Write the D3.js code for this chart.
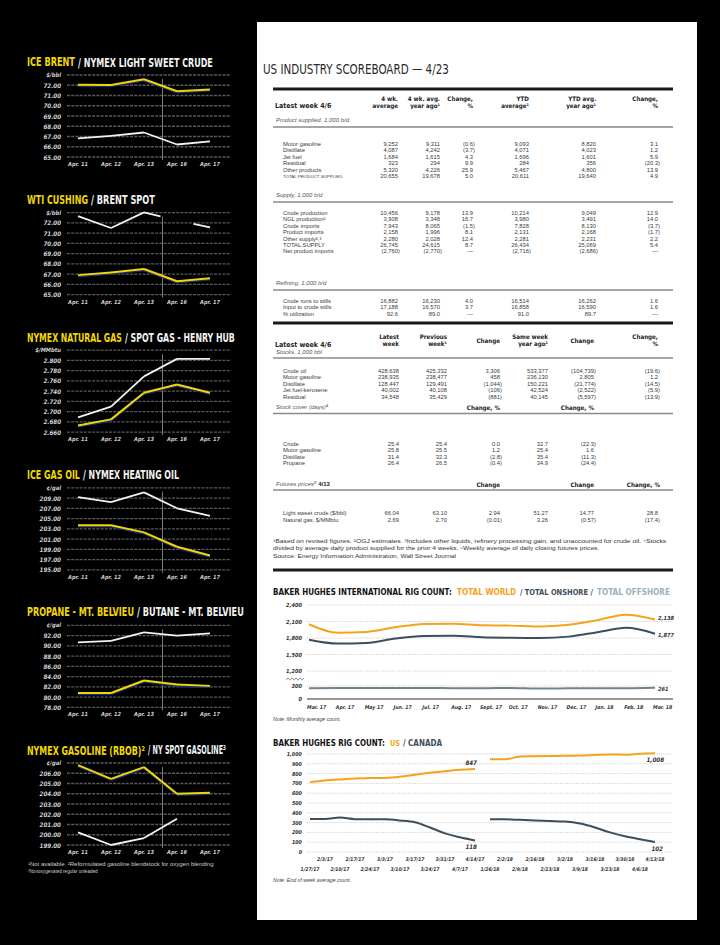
<!DOCTYPE html>
<html><head><meta charset="utf-8">
<script src="https://cdn.jsdelivr.net/npm/d3@7"></script>
<style>
html,body{margin:0;padding:0;background:#000;}
svg{display:block;}
</style></head><body>
<svg id="c" width="720" height="945"></svg>
<script>
// ================= DATA =================
const days = ["Apr. 11","Apr. 12","Apr. 13","Apr. 16","Apr. 17"];

const iceBrent      = [72.06, 72.02, 72.58, 71.42, 71.58];
const nymexLsc      = [66.82, 67.07, 67.39, 66.22, 66.52];
const wtiCushing    = [66.90, 67.15, 67.50, 66.30, 66.60];
const brentSpot     = [72.65, 71.50, 73.02, null, 71.55];
const brentSpotNA   = [null, null, null, 72.25, null];   // not available point (drawn half way)
const nymexGas      = [2.673, 2.685, 2.737, 2.753, 2.737];
const henryHub      = [2.689, 2.710, 2.769, 2.803, 2.803];
const iceGasOil     = [203.7, 203.7, 202.3, 199.5, 197.8];
const heatingOil    = [209.2, 208.2, 210.1, 207.0, 205.5];
const propane       = [80.8, 80.8, 83.25, 82.45, 82.2];
const butane        = [90.7, 91.0, 92.65, 92.0, 92.45];
const rbob          = [206.8, 205.45, 206.6, 204.0, 204.1];
const nySpotGas     = [200.23, 199.0, 199.68, 201.57, null];

const crudeTicks = [65,66,67,68,69,70,71,72];
const gasTicks   = [2.66,2.68,2.70,2.72,2.74,2.76,2.78,2.80];
const hoTicks    = [195,197,199,201,203,205,207,209];
const lpgTicks   = [78,80,82,84,86,88,90,92];
const rbobTicks  = [199,200,201,202,203,204,205,206];

const leftCharts = [
  {t1:"ICE BRENT", t2:"/ NYMEX LIGHT SWEET CRUDE", unit:"$/bbl", ticks:crudeTicks, top:73, dec:2, yellow:iceBrent, white:nymexLsc},
  {t1:"WTI CUSHING", t2:"/ BRENT SPOT", unit:"$/bbl", ticks:crudeTicks, top:73, dec:2, yellow:wtiCushing, white:brentSpot, whiteNA:brentSpotNA},
  {t1:"NYMEX NATURAL GAS", t2:"/ SPOT GAS - HENRY HUB", unit:"$/MMbtu", ticks:gasTicks, top:2.82, dec:3, yellow:nymexGas, white:henryHub},
  {t1:"ICE GAS OIL", t2:"/ NYMEX HEATING OIL", unit:"¢/gal", ticks:hoTicks, top:211, dec:2, yellow:iceGasOil, white:heatingOil},
  {t1:"PROPANE - MT. BELVIEU", t2:"/ BUTANE - MT. BELVIEU", unit:"¢/gal", ticks:lpgTicks, top:94, dec:2, yellow:propane, white:butane},
  {t1:"NYMEX GASOLINE (RBOB)²", t2:"/ NY SPOT GASOLINE³", unit:"¢/gal", ticks:rbobTicks, top:207, dec:2, yellow:rbob, white:nySpotGas}
];
const leftFootnotes = ["¹Not available. ²Reformulated gasoline blendstock for oxygen blending", "³Nonoxygenated regular unleaded"];

// Scoreboard table
const topHeaders = [["4 wk.","average"],["4 wk. avg.","year ago¹"],["Change,","%"],["YTD","average¹"],["YTD avg.","year ago¹"],["Change,","%"]];
const prodLabels = ["Motor gasoline","Distillate","Jet fuel","Residual","Other products","TOTAL PRODUCT SUPPLIED"];
const prodValues = [
  ["9,252","9,311","(0.6)","9,093","8,820","3.1"],
  ["4,087","4,242","(3.7)","4,071","4,023","1.2"],
  ["1,684","1,615","4.3","1,696","1,601","5.9"],
  ["323","294","9.9","284","356","(20.3)"],
  ["5,320","4,226","25.9","5,467","4,800","13.9"],
  ["20,655","19,678","5.0","20,611","19,640","4.9"]
];
const supplyLabels = ["Crude production","NGL production²","Crude imports","Product imports","Other supply²,³","TOTAL SUPPLY","Net product imports"];
const supplyValues = [
  ["10,456","9,178","13.9","10,214","9,049","12.9"],
  ["3,908","3,348","16.7","3,980","3,491","14.0"],
  ["7,943","8,065","(1.5)","7,828","8,130","(3.7)"],
  ["2,158","1,996","8.1","2,131","2,168","(1.7)"],
  ["2,280","2,028","12.4","2,281","2,231","2.2"],
  ["26,745","24,615","8.7","26,434","25,069","5.4"],
  ["(2,760)","(2,770)","—","(2,716)","(2,686)","—"]
];
const refLabels = ["Crude runs to stills","Input to crude stills","% utilization"];
const refValues = [
  ["16,882","16,230","4.0","16,514","16,262","1.6"],
  ["17,188","16,570","3.7","16,858","16,590","1.6"],
  ["92.6","89.0","—","91.0","89.7","—"]
];
const stockHeaders = [["Latest","week"],["Previous","week¹"],["Change"],["Same week","year ago¹"],["Change"],["Change,","%"]];
const stockLabels = ["Crude oil","Motor gasoline","Distillate","Jet fuel-kerosene","Residual"];
const stockValues = [
  ["428,638","425,332","3,306","533,377","(104,739)","(19.6)"],
  ["238,935","238,477","458","236,130","2,805","1.2"],
  ["128,447","129,491","(1,044)","150,221","(21,774)","(14.5)"],
  ["40,002","40,108","(106)","42,524","(2,522)","(5.9)"],
  ["34,548","35,429","(881)","40,145","(5,597)","(13.9)"]
];
const coverLabels = ["Crude","Motor gasoline","Distillate","Propane"];
const coverValues = [
  ["25.4","25.4","0.0","32.7","(22.3)"],
  ["25.8","25.5","1.2","25.4","1.6"],
  ["31.4","32.3","(2.8)","35.4","(11.3)"],
  ["26.4","26.5","(0.4)","34.9","(24.4)"]
];
const futLabels = ["Light sweet crude ($/bbl)","Natural gas, $/MMbtu"];
const futValues = [
  ["66.04","63.10","2.94","51.27","14.77","28.8"],
  ["2.69","2.70","(0.01)","3.26","(0.57)","(17.4)"]
];
const tableNotes = [
  "¹Based on revised figures. ²OGJ estimates. ³Includes other liquids, refinery processing gain, and unaccounted for crude oil. ⁴Stocks",
  "divided by average daily product supplied for the prior 4 weeks. ⁵Weekly average of daily closing futures prices.",
  "Source: Energy Information Administration, Wall Street Journal"
];

// International rig count
const intlMonths = ["Mar. 17","Apr. 17","May 17","Jun. 17","Jul. 17","Aug. 17","Sept. 17","Oct. 17","Nov. 17","Dec. 17","Jan. 18","Feb. 18","Mar. 18"];
const worldRigs    = [2050,1895,1910,1995,2055,2060,2030,2025,2010,2040,2125,2225,2138];
const onshoreRigs  = [1770,1700,1710,1790,1835,1840,1815,1805,1800,1825,1905,1985,1877];
const offshoreRigs = [248,252,256,254,252,250,246,256,242,246,248,250,261];
const intlUpperTicks = [1200,1500,1800,2100,2400];
const intlLowerTicks = [0,300];

// US / Canada rig count
const rigDates = ["1/27/17","2/3/17","2/10/17","2/17/17","2/24/17","3/3/17","3/10/17","3/17/17","3/24/17","3/31/17","4/7/17","4/14/17",
                  "1/26/18","2/2/18","2/9/18","2/16/18","2/23/18","3/2/18","3/9/18","3/16/18","3/23/18","3/30/18","4/6/18","4/13/18"];
const usRigs2017 = [712,729,741,751,754,756,768,789,809,824,839,847];
const usRigs2018 = [947,946,975,978,980,981,984,990,995,993,1003,1008];
const caRigs2017 = [337,337,352,335,335,334,322,303,250,190,150,118];
const caRigs2018 = [335,334,328,322,316,310,290,250,200,160,130,102];
const usCaTicks = [0,100,200,300,400,500,600,700,800,900,1000];

// ================= DRAWING =================
const svg = d3.select("#c");
const COND = "'DejaVu Sans Condensed','DejaVu Sans',sans-serif";
const SANS = "'Liberation Sans',Arial,sans-serif";

function T(sel, x, y, s, o = {}) {
  const t = sel.append("text").attr("x", x).attr("y", y).text(s)
    .attr("dominant-baseline", "central")
    .attr("font-family", o.ff || SANS)
    .attr("font-size", o.fs || 6)
    .attr("fill", o.fill || "#333");
  if (o.fw) t.attr("font-weight", o.fw);
  if (o.fst) t.attr("font-style", o.fst);
  if (o.anchor) t.attr("text-anchor", o.anchor);
  if (o.stretch) t.attr("font-stretch", o.stretch);
  if (o.tl) {
    // horizontally scale the text so that it spans the wanted width
    const nat = t.node().getComputedTextLength();
    if (nat > 0) {
      const k = o.tl / nat;
      t.attr("transform", `translate(${x},0) scale(${k},1) translate(${-x},0)`);
    }
  }
  return t;
}

svg.append("rect").attr("width", 720).attr("height", 945).attr("fill", "#000");

// ---------- left column charts ----------
const YEL = "#f2d800", WHT = "#f2f2f2";
const titleW = [[48,135],[61,64],[95,110],[53,96],[107,107],[118,78]];
const left = svg.append("g");
const xL = d3.scalePoint().domain(days).range([78, 210]);
leftCharts.forEach((c, i) => {
  const g = left.append("g");
  const ty = 62 + i * 137.6;
  const top = ty + 13, bot = ty + 95;
  const y = d3.scaleLinear().domain([c.ticks[0], c.top]).range([bot, top]);
  T(g, 27, ty, c.t1, {ff: COND, fs: 12, fw: "bold", fill: YEL, tl: titleW[i][0], stretch: "condensed"});
  T(g, 30 + titleW[i][0], ty, c.t2, {ff: COND, fs: 12, fw: "bold", fill: WHT, tl: titleW[i][1], stretch: "condensed"});
  const grid = c.ticks.concat([c.top]);
  g.selectAll("line.grid").data(grid).join("line")
    .attr("x1", 67).attr("x2", 231).attr("y1", d => y(d)).attr("y2", d => y(d))
    .attr("stroke", "#595959").attr("stroke-width", 1.3).attr("stroke-dasharray", "3,1.2");
  const fmt = d3.format("." + c.dec + "f");
  c.ticks.forEach(v => T(g, 61, y(v), fmt(v), {ff: COND, fs: 6.2, fw: "bold", fst: "italic", fill: "#cfcfcf", anchor: "end"}));
  T(g, 61, y(c.top), c.unit, {ff: COND, fs: 5.8, fw: "bold", fst: "italic", fill: "#cfcfcf", anchor: "end"});
  const dx = (xL("Apr. 13") + xL("Apr. 16")) / 2 + 2;
  g.append("line").attr("x1", dx).attr("x2", dx).attr("y1", top + 4).attr("y2", bot + 3)
    .attr("stroke", "#7a7a7a").attr("stroke-width", 1);
  days.forEach(d => T(g, xL(d), bot + 7, d, {ff: COND, fs: 5.6, fw: "bold", fst: "italic", fill: "#cfcfcf", anchor: "middle"}));

  const line = d3.line().defined(d => d.v != null).x(d => d.x).y(d => y(d.v));
  function segs(vals, na) {
    const out = [];
    for (let k = 0; k < vals.length - 1; k++) {
      const a = vals[k], b = vals[k + 1];
      const xa = xL(days[k]), xb = xL(days[k + 1]);
      if (a != null && b != null) out.push([{x: xa, v: a}, {x: xb, v: b}]);
      else if (na) {
        if (a != null && b == null && na[k + 1] != null) out.push([{x: xa, v: a}, {x: (xa + xb) / 2, v: (a + na[k + 1]) / 2}]);
        if (a == null && b != null && na[k] != null) out.push([{x: (xa + xb) / 2, v: (na[k] + b) / 2}, {x: xb, v: b}]);
      }
    }
    return out;
  }
  const ys = segs(c.yellow), ws = segs(c.white, c.whiteNA);
  g.selectAll("path.ysh").data(ys).join("path").attr("d", line)
    .attr("transform", "translate(0,1.4)").attr("fill", "none").attr("stroke", "#1b2a78").attr("stroke-width", 1.8);
  g.selectAll("path.y").data(ys).join("path").attr("d", line)
    .attr("fill", "none").attr("stroke", YEL).attr("stroke-width", 2);
  g.selectAll("path.w").data(ws).join("path").attr("d", line)
    .attr("fill", "none").attr("stroke", WHT).attr("stroke-width", 1.8);
});
T(left, 28, 864, leftFootnotes[0], {fs: 5, fill: "#cfcfcf", tl: 186});
T(left, 28, 871.5, leftFootnotes[1], {fs: 5, fill: "#cfcfcf", tl: 70});

// ---------- white panel ----------
svg.append("rect").attr("x", 257).attr("y", 22).attr("width", 440).attr("height", 898).attr("fill", "#fff");
const P = svg.append("g");
T(P, 263, 69, "US INDUSTRY SCOREBOARD — 4/23", {ff: COND, fs: 14, fill: "#2a2a2a", tl: 186, stretch: "condensed"});

const RX0 = 273, RX1 = 673;
function rule(y, w, col) { P.append("line").attr("x1", RX0).attr("x2", RX1).attr("y1", y).attr("y2", y).attr("stroke", col).attr("stroke-width", w); }
function num(x, y, s, o = {}) {
  const hang = /\)$/.test(s) ? 1.9 : 0;
  return T(P, x + hang, y, s, Object.assign({fs: 5.8, fill: "#3a3a3a", anchor: "end"}, o));
}
function sect(y, s, extra) {
  const t = T(P, 276, y, s, {fs: 6, fst: "italic", fill: "#555"});
  if (extra) t.append("tspan").text(extra).attr("font-style", "normal").attr("font-weight", "bold").attr("fill", "#222");
}
function rows(labels, vals, y0, step, cols) {
  labels.forEach((l, r) => {
    const yy = y0 + r * step;
    const isTot = /^TOTAL PRODUCT/.test(l);
    T(P, 283, yy, l, {fs: isTot ? 4.4 : 5.8, fill: "#3a3a3a"});
    vals[r].forEach((v, k) => num(cols[k], yy, v));
  });
}
const HB = {ff: COND, fs: 6.2, fw: "bold", fill: "#222", anchor: "end", stretch: "condensed"};

const topCols = [398, 440, 473, 529, 596, 658];
const stkCols = [399, 447, 500, 548, 594, 658];
const step = 6.4;

// top table
rule(89, 3, "#1a1a1a");
topHeaders.forEach((h, k) => { T(P, topCols[k], 98, h[0], HB); T(P, topCols[k], 105.5, h[1], HB); });
T(P, 275, 106, "Latest week 4/6", {ff: COND, fs: 7, fw: "bold", fill: "#222", stretch: "condensed"});
sect(120, "Product supplied, 1,000 b/d");
rule(127, 1.5, "#8a8a8a");
rows(prodLabels, prodValues, 144, step, topCols);
sect(195, "Supply, 1,000 b/d");
rule(202, 1.5, "#8a8a8a");
rows(supplyLabels, supplyValues, 213, step, topCols);
sect(283, "Refining, 1,000 b/d");
rule(290, 1.5, "#8a8a8a");
rows(refLabels, refValues, 301, step, topCols);

// stocks table
rule(323, 3, "#1a1a1a");
stockHeaders.forEach((h, k) => {
  if (h.length === 1) T(P, stkCols[k], 340, h[0], HB);
  else { T(P, stkCols[k], 336, h[0], HB); T(P, stkCols[k], 343.5, h[1], HB); }
});
T(P, 275, 345, "Latest week 4/6", {ff: COND, fs: 7, fw: "bold", fill: "#222", stretch: "condensed"});
sect(352, "Stocks, 1,000 bbl");
rule(358, 1.5, "#8a8a8a");
rows(stockLabels, stockValues, 371, step, stkCols);
sect(407, "Stock cover (days)⁴");
T(P, stkCols[2], 407, "Change, %", HB);
T(P, stkCols[4], 407, "Change, %", HB);
rule(413.5, 1.5, "#8a8a8a");
rows(coverLabels, coverValues, 444, step, stkCols);
sect(484, "Futures prices⁵ ", "4/13");
T(P, stkCols[2], 484, "Change", HB);
T(P, stkCols[4], 484, "Change", HB);
T(P, stkCols[5] + 2, 484, "Change, %", HB);
rule(490, 1.5, "#8a8a8a");
rows(futLabels, futValues, 512.5, 7, stkCols);
T(P, 273, 541, tableNotes[0], {fs: 4.9, fill: "#333", tl: 394});
T(P, 273, 548.5, tableNotes[1], {fs: 4.9, fill: "#333", tl: 326});
T(P, 273, 556, tableNotes[2], {fs: 4.9, fill: "#333", tl: 183});
rule(570, 3, "#1a1a1a");

// ---------- international rig count ----------
const ORG = "#f5a31a", DRK = "#3d4e5c", LGT = "#9db0bd";
const TT = {ff: COND, fs: 8.2, fw: "bold", stretch: "condensed"};
{
  const g = P.append("g");
  T(g, 273, 592, "BAKER HUGHES INTERNATIONAL RIG COUNT:", Object.assign({}, TT, {fill: "#111", tl: 179}));
  T(g, 457, 592, "TOTAL WORLD", Object.assign({}, TT, {fill: ORG, tl: 59}));
  T(g, 520, 592, "/ TOTAL ONSHORE /", Object.assign({}, TT, {fill: DRK, tl: 73}));
  T(g, 597, 592, "TOTAL OFFSHORE", Object.assign({}, TT, {fill: LGT, tl: 73}));

  const yU = d3.scaleLinear().domain([1200, 2400]).range([671, 605]);
  const yLo = d3.scaleLinear().domain([0, 300]).range([699, 686]);
  const yb = v => v >= 1000 ? yU(v) : yLo(v);
  const x = d3.scalePoint().domain(intlMonths).range([309, 655]);
  const ticks = intlLowerTicks.concat(intlUpperTicks);
  ticks.forEach(v => {
    if (v > 0) g.append("line").attr("x1", 307).attr("x2", 673).attr("y1", yb(v)).attr("y2", yb(v))
      .attr("stroke", "#bdbdbd").attr("stroke-width", 0.8).attr("stroke-dasharray", "1,1.3");
    T(g, 302, yb(v), d3.format(",")(v), {ff: COND, fs: 5.6, fw: "bold", fst: "italic", fill: "#333", anchor: "end"});
  });
  g.append("line").attr("x1", 307).attr("x2", 673).attr("y1", yb(0)).attr("y2", yb(0)).attr("stroke", "#333").attr("stroke-width", 1.1);
  const zz = d3.range(0, 10).map(k => [286 + k * 2, 679 + (k % 2 ? -1.2 : 1.2)]);
  g.append("path").attr("d", d3.line()(zz)).attr("fill", "none").attr("stroke", "#777").attr("stroke-width", 0.8);
  intlMonths.forEach(m => T(g, x(m) - 2, 707, m, {ff: COND, fs: 5.2, fw: "bold", fst: "italic", fill: "#333"}));
  const ln = d3.line().curve(d3.curveMonotoneX).x((d, k) => x(intlMonths[k])).y(d => yb(d));
  [[offshoreRigs, "#6f8391"], [onshoreRigs, DRK], [worldRigs, ORG]].forEach(([s, col]) =>
    g.append("path").attr("d", ln(s)).attr("fill", "none").attr("stroke", col).attr("stroke-width", 2));
  const last = intlMonths.length - 1;
  [[worldRigs, -1], [onshoreRigs, 1], [offshoreRigs, 1]].forEach(([s, off]) =>
    T(g, x(intlMonths[last]) + 3, yb(s[last]) + off, d3.format(",")(s[last]), {ff: COND, fs: 5.6, fw: "bold", fst: "italic", fill: "#333"}));
  T(g, 273, 719, "Note: Monthly average count.", {fs: 5.2, fst: "italic", fill: "#444"});
}

// ---------- US / Canada rig count ----------
{
  const g = P.append("g");
  T(g, 273, 743, "BAKER HUGHES RIG COUNT:", Object.assign({}, TT, {fill: "#111", tl: 112}));
  T(g, 390, 743, "US", Object.assign({}, TT, {fill: ORG, tl: 10}));
  T(g, 403, 743, "/ CANADA", Object.assign({}, TT, {fill: DRK, tl: 39}));

  const y = d3.scaleLinear().domain([0, 1000]).range([852, 754]);
  const x = d3.scalePoint().domain(rigDates).range([310, 655]);
  usCaTicks.forEach(v => {
    g.append("line").attr("x1", 307).attr("x2", 672).attr("y1", y(v)).attr("y2", y(v))
      .attr("stroke", "#bdbdbd").attr("stroke-width", 0.8).attr("stroke-dasharray", "1,1.3");
    T(g, 302, y(v), d3.format(",")(v), {ff: COND, fs: 5.4, fw: "bold", fst: "italic", fill: "#333", anchor: "end"});
  });
  rigDates.forEach((d, k) => T(g, x(d), k % 2 ? 859 : 869, d, {ff: COND, fs: 5, fw: "bold", fst: "italic", fill: "#333", anchor: "middle"}));
  const d17 = rigDates.slice(0, 12), d18 = rigDates.slice(12);
  const mk = dates => d3.line().curve(d3.curveMonotoneX).x((d, k) => x(dates[k])).y(d => y(d));
  [[caRigs2017, d17, DRK], [caRigs2018, d18, DRK], [usRigs2017, d17, ORG], [usRigs2018, d18, ORG]].forEach(([s, dd, col]) =>
    g.append("path").attr("d", mk(dd)(s)).attr("fill", "none").attr("stroke", col).attr("stroke-width", 2));
  const lab = {ff: COND, fs: 6.2, fw: "bold", fst: "italic", fill: "#333", anchor: "end"};
  T(g, x(d17[11]) + 2, y(usRigs2017[11]) - 6, d3.format(",")(usRigs2017[11]), lab);
  T(g, x(d17[11]) + 2, y(caRigs2017[11]) + 6, d3.format(",")(caRigs2017[11]), lab);
  T(g, x(d18[11]) + 9, y(usRigs2018[11]) + 6, d3.format(",")(usRigs2018[11]), lab);
  T(g, x(d18[11]) + 8, y(caRigs2018[11]) + 6, d3.format(",")(caRigs2018[11]), lab);
  T(g, 273, 880, "Note: End of week average count.", {fs: 5.2, fst: "italic", fill: "#444"});
}
</script>
</body></html>
